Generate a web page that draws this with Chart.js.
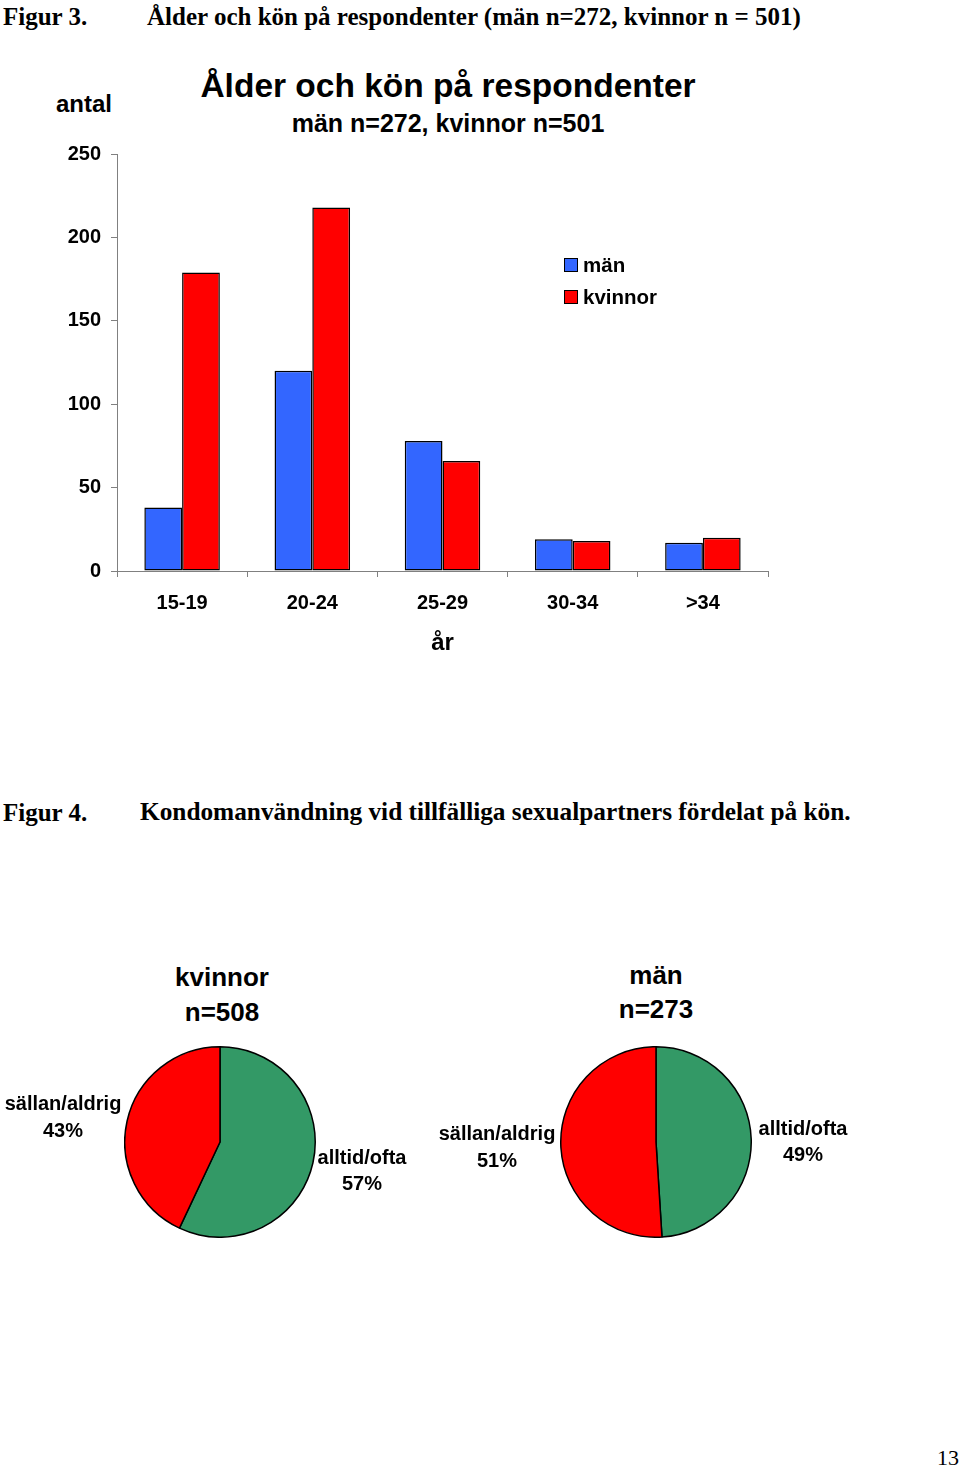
<!DOCTYPE html>
<html>
<head>
<meta charset="utf-8">
<script src="https://cdn.jsdelivr.net/npm/chart.js@4"></script>
<style>
  html, body { margin: 0; padding: 0; background: #fff; }
  #page { position: relative; width: 960px; height: 1470px; overflow: hidden; background: #fff; }
  .t { position: absolute; white-space: nowrap; color: #000; }
  .serif { font-family: "Times New Roman", "Liberation Serif", serif; }
  .bold { font-weight: bold; }
  .sans { font-family: Arial, "Liberation Sans", sans-serif; font-weight: bold; }
  .center { text-align: center; }
  canvas { position: absolute; }
  .leg { position: absolute; display: flex; align-items: center; font-family: Arial, "Liberation Sans", sans-serif; font-weight: bold; font-size: 20.5px; }
  .leg span.box { display: inline-block; width: 12px; height: 12px; border: 1.5px solid #000; margin-right: 5px; }
</style>
</head>
<body>
<div id="page">
  <canvas id="barChart" style="left:0; top:140px;" width="780" height="530"></canvas>
  <canvas id="pieKvinnor" style="left:124px; top:1046px;" width="192" height="192"></canvas>
  <canvas id="pieMan" style="left:560px; top:1046px;" width="192" height="192"></canvas>
</div>
<script>
// stapeldiagram - ålder och kön
const kategorier = ['15-19', '20-24', '25-29', '30-34', '>34'];
const manAntal = [38, 120, 78, 19, 17];
const kvinnorAntal = [179, 218, 66, 18, 20];
const serieNamn = ['män', 'kvinnor'];
const serieFarger = ['#3366FF', '#FF0000'];

// cirkeldiagram - kondomanvändning
const pieEtiketter = ['alltid/ofta', 'sällan/aldrig'];
const kvinnorProcent = [57, 43];
const manProcent = [49, 51];
const pieFarger = ['#339966', '#FF0000'];

const sans = 'Arial, "Liberation Sans", sans-serif';
const page = document.getElementById('page');

function text(str, x, cy, size, cls, align) {
    const d = document.createElement('div');
    d.className = 't ' + cls + (align === 'center' ? ' center' : '');
    d.textContent = str;
    d.style.fontSize = size + 'px';
    d.style.lineHeight = size + 'px';
    d.style.top = (cy - size / 2) + 'px';
    if (align === 'center') {
        d.style.left = (x - 400) + 'px';
        d.style.width = '800px';
    } else {
        d.style.left = x + 'px';
    }
    page.appendChild(d);
}

// rubriker
text('Figur 3.', 3, 16, 25, 'serif bold', 'left');
text('Ålder och kön på respondenter (män n=272, kvinnor n = 501)', 147, 16, 25, 'serif bold', 'left');
text('antal', 84, 104, 24, 'sans', 'center');
text('Ålder och kön på respondenter', 448, 86, 33.5, 'sans', 'center');
text('män n=272, kvinnor n=501', 448, 123, 25, 'sans', 'center');

// legend
serieNamn.forEach((namn, i) => {
    const l = document.createElement('div');
    l.className = 'leg';
    l.style.left = '564px';
    l.style.top = (255 + i * 32) + 'px';
    l.style.height = '20px';
    l.innerHTML = '<span class="box" style="background:' + serieFarger[i] + '"></span>' + namn;
    page.appendChild(l);
});

text('Figur 4.', 3, 812, 25, 'serif bold', 'left');
text('Kondomanvändning vid tillfälliga sexualpartners fördelat på kön.', 140, 812, 25.3, 'serif bold', 'left');

text('kvinnor', 222, 977, 26, 'sans', 'center');
text('n=508', 222, 1012, 26, 'sans', 'center');
text('män', 656, 975, 26, 'sans', 'center');
text('n=273', 656, 1009, 26, 'sans', 'center');

// etiketter vid cirklarna
text(pieEtiketter[1], 63, 1103, 20, 'sans', 'center');
text(kvinnorProcent[1] + '%', 63, 1130, 20, 'sans', 'center');
text(pieEtiketter[0], 362, 1157, 20, 'sans', 'center');
text(kvinnorProcent[0] + '%', 362, 1183, 20, 'sans', 'center');
text(pieEtiketter[1], 497, 1133, 20, 'sans', 'center');
text(manProcent[1] + '%', 497, 1160, 20, 'sans', 'center');
text(pieEtiketter[0], 803, 1128, 20, 'sans', 'center');
text(manProcent[0] + '%', 803, 1154, 20, 'sans', 'center');

text('13', 937, 1458, 22, 'serif', 'left');

new Chart(document.getElementById('barChart').getContext('2d'), {
    type: 'bar',
    data: {
        labels: kategorier,
        datasets: [{
            label: serieNamn[0],
            data: manAntal,
            backgroundColor: serieFarger[0],
            borderColor: '#000',
            borderWidth: 1.5,
            borderSkipped: false
        }, {
            label: serieNamn[1],
            data: kvinnorAntal,
            backgroundColor: serieFarger[1],
            borderColor: '#000',
            borderWidth: 1.5,
            borderSkipped: false
        }]
    },
    options: {
        responsive: false,
        animation: false,
        categoryPercentage: 0.58,
        barPercentage: 1,
        layout: { padding: { top: 14, right: 12, left: 0, bottom: 0 } },
        plugins: { legend: { display: false }, tooltip: { enabled: false } },
        scales: {
            x: {
                afterFit: s => { s.height = 99; },
                border: { color: '#808080', width: 1 },
                grid: { drawOnChartArea: false, color: '#808080', tickLength: 6 },
                ticks: { color: '#000', padding: 14, font: { family: sans, size: 20, weight: 'bold' } },
                title: { display: true, text: 'år', color: '#000', padding: { top: 0, bottom: 12 }, font: { family: sans, size: 24, weight: 'bold' } }
            },
            y: {
                min: 0,
                max: 250,
                afterFit: s => { s.width = 117; s.paddingTop = 0; s.paddingBottom = 0; },
                border: { color: '#808080', width: 1 },
                grid: { drawOnChartArea: false, color: '#808080', tickLength: 6 },
                ticks: { stepSize: 50, color: '#000', padding: 10, font: { family: sans, size: 20, weight: 'bold' } }
            }
        }
    }
});

function ritaPaj(id, varden) {
    new Chart(document.getElementById(id).getContext('2d'), {
        type: 'pie',
        data: {
            labels: pieEtiketter,
            datasets: [{
                data: varden,
                backgroundColor: pieFarger,
                borderColor: '#000',
                borderWidth: 1.5
            }]
        },
        options: {
            responsive: false,
            animation: false,
            plugins: { legend: { display: false }, tooltip: { enabled: false } }
        }
    });
}
ritaPaj('pieKvinnor', kvinnorProcent);
ritaPaj('pieMan', manProcent);
</script>
</body>
</html>
